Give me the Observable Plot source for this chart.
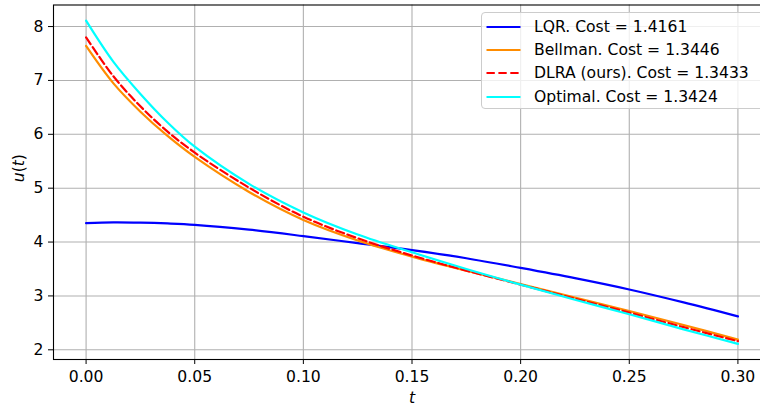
<!DOCTYPE html>
<html><head><meta charset="utf-8">
<script src="https://cdn.jsdelivr.net/npm/d3@7"></script>
<script src="https://cdn.jsdelivr.net/npm/@observablehq/plot@0.6"></script>
<style>
html,body{margin:0;padding:0;background:#fff;overflow:hidden;}
#wrap{position:relative;width:760px;height:405px;overflow:hidden;font-family:"DejaVu Sans";color:#000;}
#wrap svg{position:absolute;left:0;top:0;}
#wrap svg text{font-family:"DejaVu Sans";}
#legend{position:absolute;left:481px;top:12px;width:300px;height:97px;border:1px solid #cccccc;border-radius:4px;background:rgba(255,255,255,0.8);box-sizing:border-box;}
.row{position:absolute;left:0;height:20px;display:flex;align-items:center;font-size:15.6px;font-family:"DejaVu Sans";white-space:nowrap;}
.row svg{position:static !important;margin-left:4px;margin-right:13px;}
</style></head><body><div id="wrap"></div>
<script>
const tValues   = [0, 0.0125, 0.025, 0.0375, 0.05, 0.075, 0.1, 0.125, 0.15, 0.175, 0.2, 0.225, 0.25, 0.275, 0.3];
const lqrU      = [4.35, 4.365, 4.36, 4.345, 4.32, 4.23, 4.11, 3.98, 3.85, 3.70, 3.52, 3.33, 3.12, 2.88, 2.62];
const bellmanU  = [7.64, 6.95, 6.42, 5.97, 5.58, 4.93, 4.41, 4.03, 3.73, 3.47, 3.22, 2.97, 2.72, 2.46, 2.19];
const dlraU     = [7.80, 7.08, 6.52, 6.05, 5.66, 5.01, 4.47, 4.07, 3.75, 3.47, 3.21, 2.95, 2.69, 2.42, 2.16];
const optimalU  = [8.11, 7.35, 6.75, 6.22, 5.77, 5.08, 4.55, 4.14, 3.81, 3.50, 3.21, 2.93, 2.66, 2.38, 2.11];
const seriesNames  = ["LQR. Cost = 1.4161", "Bellman. Cost = 1.3446", "DLRA (ours). Cost = 1.3433", "Optimal. Cost = 1.3424"];
const seriesColors = ["#0000ff", "#ff8c00", "#ff0000", "#00ffff"];
const seriesDash   = [null, null, "8.3,3.6", null];
const xTicks = [0, 0.05, 0.1, 0.15, 0.2, 0.25, 0.3];
const yTicks = [2, 3, 4, 5, 6, 7, 8];
const seriesValues = [lqrU, bellmanU, dlraU, optimalU];

const FS = 15.6;
const gridStyle = {stroke: "#b0b0b0", strokeOpacity: 1, strokeWidth: 1.1};
const marks = [
  Plot.gridX(xTicks, gridStyle),
  Plot.gridY(yTicks, gridStyle),
  ...seriesValues.map((vals, i) => Plot.line(
    tValues.map((t, j) => ({t, u: vals[j]})),
    {x: "t", y: "u", stroke: seriesColors[i], strokeWidth: 2.2, curve: "catmull-rom",
     strokeDasharray: seriesDash[i] || undefined}
  )),
  Plot.frame({stroke: "#000", strokeWidth: 1.1}),
  Plot.axisX(xTicks, {tickFormat: d3.format(".2f"), tickSize: 5, tickPadding: 6, fontSize: FS, label: null}),
  Plot.axisY(yTicks, {tickFormat: d3.format("d"), tickSize: 5, tickPadding: 5, fontSize: FS, label: null}),
  Plot.text(["t"], {frameAnchor: "bottom", dy: 38, fontStyle: "italic", fontSize: FS, lineAnchor: "middle"}),
  Plot.text(["u(t)"], {frameAnchor: "left", dx: -35, rotate: -90, fontSize: FS, lineAnchor: "middle", className: "ylab"})
];

const chart = Plot.plot({
  width: 760, height: 405,
  marginLeft: 53, marginTop: 4.5, marginBottom: 46, marginRight: -10,
  style: "font-family:'DejaVu Sans';color:#000;background:transparent;overflow:visible;",
  x: {domain: [-0.015, 0.315]},
  y: {domain: [1.82, 8.40]},
  marks
});
d3.select(chart).selectAll("g.ylab text")
  .html('<tspan font-style="italic">u</tspan>(<tspan font-style="italic">t</tspan>)');

const wrap = document.getElementById("wrap");
wrap.appendChild(chart);

const legend = document.createElement("div");
legend.id = "legend";
const centers = [13.7, 37, 60.3, 83.8];
seriesNames.forEach((name, i) => {
  const row = document.createElement("div");
  row.className = "row";
  row.style.top = (centers[i] - 10) + "px";
  const dash = seriesDash[i] ? ` stroke-dasharray="${seriesDash[i]}"` : "";
  row.innerHTML = `<svg width="35" height="20"><line x1="0.5" x2="34.5" y1="10" y2="10" stroke="${seriesColors[i]}" stroke-width="2.2"${dash}/></svg><span>${name}</span>`;
  legend.appendChild(row);
});
wrap.appendChild(legend);
</script>
</body></html>
